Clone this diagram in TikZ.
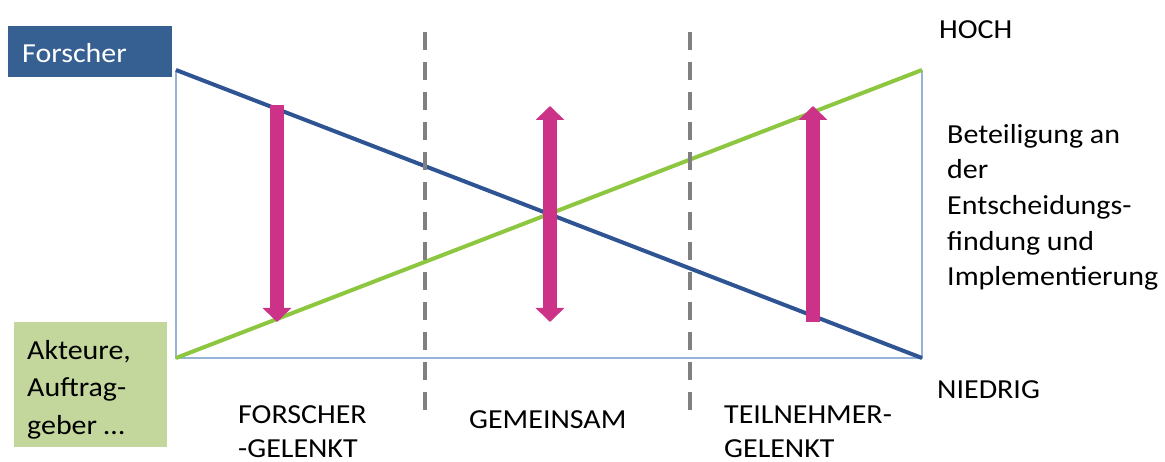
\documentclass[tikz,border=0pt]{standalone}
\usepackage{fontspec}
\setmainfont{Carlito}[FakeStretch=1.09]
\usetikzlibrary{arrows.meta}

\definecolor{forscherblue}{RGB}{55,96,146}
\definecolor{lineblue}{RGB}{46,84,148}
\definecolor{linegreen}{RGB}{141,198,63}
\definecolor{akteurgreen}{RGB}{195,214,155}
\definecolor{arrowpink}{RGB}{204,51,136}
\definecolor{frameblue}{RGB}{149,179,215}
\definecolor{dashgray}{RGB}{128,128,128}

\tikzset{pinktip/.tip={Triangle[width=28pt, length=14pt]}}

\begin{document}
\begin{tikzpicture}[x=1pt,y=-1pt,
  txt/.style={inner sep=0pt, font=\fontsize{27.5}{33}\selectfont},
  oneline/.style={txt, anchor=base west},
  multiline/.style={txt, anchor=north west, align=left,
    font=\fontsize{27.5}{#1}\selectfont},
  labelbox/.style={anchor=north west, inner sep=0pt, draw=none},
  frameline/.style={draw=frameblue, line width=2.6pt},
  trendline/.style={line width=4pt},
  divider/.style={draw=dashgray, line width=4.5pt, dash pattern=on 18pt off 12pt},
  bigarrow/.style={draw=arrowpink, fill=arrowpink, line width=14pt}
]
\useasboundingbox (0,0) rectangle (1165,462);

% corners of the open frame
\coordinate (fTL) at (176,70);
\coordinate (fBL) at (176,358);
\coordinate (fBR) at (922,358);
\coordinate (fTR) at (922,70);

% frame: left, bottom and right sides
\draw[frameline] (fTL) -- (fBL) -- (fBR) -- (fTR);

% the two crossing lines
\draw[trendline, lineblue] (fTL) -- (fBR);
\draw[trendline, linegreen] (fBL) -- (fTR);

% dashed separators between the three zones
\coordinate (d1top) at (425,32);
\coordinate (d1bot) at (425,410);
\coordinate (d2top) at (690,32);
\coordinate (d2bot) at (690,410);
\draw[divider] (d1top) -- (d1bot);
\draw[divider] (d2top) -- (d2bot);

% thick arrows
\coordinate (a1top) at (277,105);
\coordinate (a1bot) at (277,322);
\coordinate (a2top) at (550,106);
\coordinate (a2bot) at (550,322);
\coordinate (a3top) at (813,106);
\coordinate (a3bot) at (813,322);
\draw[bigarrow, -pinktip] (a1top) -- (a1bot);
\draw[bigarrow, pinktip-pinktip] (a2top) -- (a2bot);
\draw[bigarrow, -pinktip] (a3bot) -- (a3top);

% coloured label boxes on the left
\node[labelbox, fill=forscherblue, minimum width=164pt, minimum height=51pt] (forscherbox) at (8,26) {};
\node[oneline, text=white] (forscher) at (22,63) {Forscher};

\node[labelbox, fill=akteurgreen, minimum width=153pt, minimum height=125pt] (akteurebox) at (14,322) {};
\node[multiline=37.5] (akteure) at (27,332.75) {\strut Akteure,\\Auftrag-\\geber \dots};

% scale labels on the right
\node[oneline] (hoch) at (939,39) {HOCH};
\node[oneline] (niedrig) at (937,398) {NIEDRIG};
\node[multiline=35.7] (beteiligung) at (947,118) {\strut Beteiligung an\\der\\Entscheidungs-\\findung und\\Implementierung};

% zone labels along the bottom
\node[multiline=34] (zone1) at (238,399.2) {\strut FORSCHER\\-GELENKT};
\node[oneline] (zone2) at (469,428) {GEMEINSAM};
\node[multiline=34] (zone3) at (724,399.2) {\strut TEILNEHMER-\\GELENKT};
\end{tikzpicture}
\end{document}
